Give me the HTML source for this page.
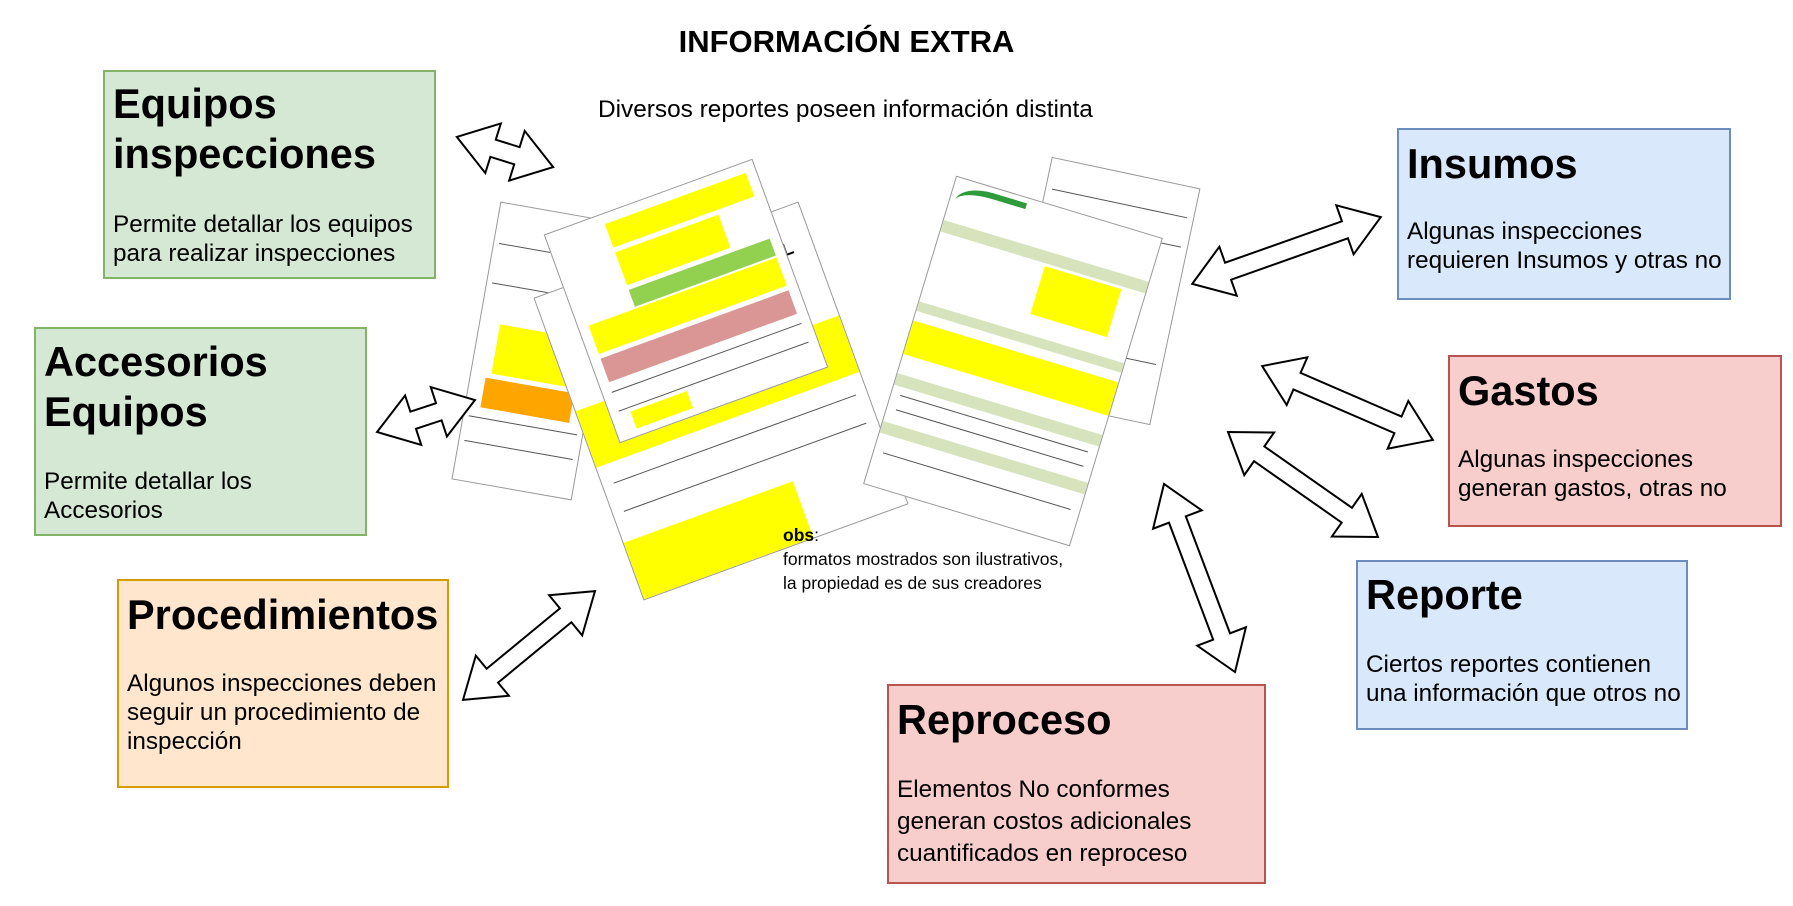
<!DOCTYPE html>
<html><head><meta charset="utf-8">
<style>
html,body{margin:0;padding:0;background:#fff;}
body{width:1793px;height:906px;position:relative;overflow:hidden;font-family:"Liberation Sans",Arial,sans-serif;color:#000;}
.box{position:absolute;box-sizing:border-box;border:2px solid;}
.g{background:#d5e8d4;border-color:#82b366;}
.b{background:#dae8fc;border-color:#6c8ebf;}
.r{background:#f8cecc;border-color:#b85450;}
.o{background:#ffe6cc;border-color:#d79b00;}
.t{position:absolute;left:8px;font-weight:bold;font-size:41.5px;line-height:50px;white-space:nowrap;}
.d{position:absolute;left:8px;font-size:24.3px;line-height:29px;white-space:nowrap;}
.abs{position:absolute;}
.doc{position:absolute;background:#fff;border:1px solid #999;overflow:hidden;}
.y{position:absolute;background:#ffff00;}
.gr{position:absolute;background:#d6e3bc;}
.ln{position:absolute;height:1px;background:#555;left:4%;right:4%;}
</style></head><body>

<div class="abs" style="left:0;width:1693px;top:22px;text-align:center;font-weight:bold;font-size:31px;line-height:40px;">INFORMACIÓN EXTRA</div>
<div class="abs" style="left:598px;top:96px;font-size:24.4px;line-height:28px;">Diversos reportes poseen información distinta</div>

<!-- documents -->
<div class="doc" style="left:475px;top:210px;width:120px;height:280px;transform:rotate(10deg);">
  <div class="ln" style="top:40px"></div><div class="ln" style="top:80px"></div>
  <div class="y" style="left:20px;top:120px;width:80px;height:50px;"></div>
  <div class="abs" style="left:15px;top:175px;width:90px;height:30px;background:#ffa500;"></div>
  <div class="ln" style="top:215px"></div><div class="ln" style="top:240px"></div>
</div>
<div class="doc" style="left:1025px;top:170px;width:150px;height:240px;transform:rotate(12deg);">
  <div class="ln" style="top:30px"></div><div class="ln" style="top:60px"></div><div class="ln" style="top:180px"></div>
</div>
<div class="doc" style="left:580px;top:240px;width:280px;height:320px;transform:rotate(-20deg);">
  <div class="abs" style="left:60px;top:30px;font-weight:bold;font-size:18px;">E INSPECCION VISUAL</div>
  <div class="y" style="left:0;top:120px;width:280px;height:60px;"></div>
  <div class="ln" style="top:200px"></div><div class="ln" style="top:230px"></div>
  <div class="y" style="left:0;top:260px;width:180px;height:60px;"></div>
</div>
<div class="doc" style="left:575px;top:190px;width:220px;height:220px;transform:rotate(-20deg);">
  <div class="y" style="left:60px;top:10px;width:150px;height:25px;"></div>
  <div class="y" style="left:60px;top:40px;width:110px;height:35px;"></div>
  <div class="abs" style="left:60px;top:80px;width:150px;height:18px;background:#92d050;"></div>
  <div class="y" style="left:10px;top:100px;width:200px;height:30px;"></div>
  <div class="abs" style="left:10px;top:135px;width:200px;height:25px;background:#da9694;"></div>
  <div class="ln" style="top:170px"></div><div class="ln" style="top:190px"></div>
  <div class="y" style="left:20px;top:195px;width:60px;height:18px;"></div>
</div>
<div class="doc" style="left:905px;top:200px;width:214px;height:320px;transform:rotate(16.8deg);">
  <div class="abs" style="left:5px;top:5px;width:70px;height:30px;border-top:6px solid #2e9c3a;border-radius:50% 0 0 0;"></div>
  <div class="gr" style="left:0;top:45px;width:214px;height:12px;"></div>
  <div class="y" style="left:110px;top:60px;width:80px;height:50px;"></div>
  <div class="gr" style="left:0;top:130px;width:214px;height:10px;"></div>
  <div class="y" style="left:0;top:150px;width:214px;height:35px;"></div>
  <div class="gr" style="left:0;top:205px;width:214px;height:12px;"></div>
  <div class="ln" style="top:225px"></div><div class="ln" style="top:240px"></div>
  <div class="gr" style="left:0;top:255px;width:214px;height:12px;"></div>
  <div class="ln" style="top:285px"></div>
</div>

<div class="abs" style="left:783px;top:523px;font-size:17.5px;line-height:24px;"><b>obs</b>:<br>formatos mostrados son ilustrativos,<br>la propiedad es de sus creadores</div>

<!-- arrows -->
<svg class="abs" style="left:0;top:0" width="1793" height="906">
<g fill="#fff" stroke="#000" stroke-width="2">
<polygon transform="translate(505,152) rotate(17.4)" points="-50.5,0 -12.5,-26 -12.5,-9 12.5,-9 12.5,-26 50.5,0 12.5,26 12.5,9 -12.5,9 -12.5,26"/>
<polygon transform="translate(426,416) rotate(-18.1)" points="-51.5,0 -13.5,-26 -13.5,-9 13.5,-9 13.5,-26 51.5,0 13.5,26 13.5,9 -13.5,9 -13.5,26"/>
<polygon transform="translate(529,645.5) rotate(-39.5)" points="-85.5,0 -47.5,-26 -47.5,-9 47.5,-9 47.5,-26 85.5,0 47.5,26 47.5,9 -47.5,9 -47.5,26"/>
<polygon transform="translate(1286.5,250.5) rotate(-19.5)" points="-100,0 -62,-26 -62,-9 62,-9 62,-26 100,0 62,26 62,9 -62,9 -62,26"/>
<polygon transform="translate(1347.5,403) rotate(23.4)" points="-93,0 -55,-26 -55,-9 55,-9 55,-26 93,0 55,26 55,9 -55,9 -55,26"/>
<polygon transform="translate(1303,484.5) rotate(35)" points="-91.5,0 -53.5,-26 -53.5,-9 53.5,-9 53.5,-26 91.5,0 53.5,26 53.5,9 -53.5,9 -53.5,26"/>
<polygon transform="translate(1199.5,578) rotate(69.3)" points="-100.5,0 -62.5,-26 -62.5,-9 62.5,-9 62.5,-26 100.5,0 62.5,26 62.5,9 -62.5,9 -62.5,26"/>
</g></svg>

<!-- boxes -->
<div class="box g" style="left:103px;top:70px;width:333px;height:209px;">
  <div class="t" style="top:7px">Equipos<br>inspecciones</div>
  <div class="d" style="top:138px">Permite detallar los equipos<br>para realizar inspecciones</div>
</div>
<div class="box g" style="left:34px;top:327px;width:333px;height:209px;">
  <div class="t" style="top:8px">Accesorios<br>Equipos</div>
  <div class="d" style="top:138px">Permite detallar los<br>Accesorios</div>
</div>
<div class="box o" style="left:117px;top:579px;width:332px;height:209px;">
  <div class="t" style="top:9px">Procedimientos</div>
  <div class="d" style="top:88px">Algunos inspecciones deben<br>seguir un procedimiento de<br>inspección</div>
</div>
<div class="box b" style="left:1397px;top:128px;width:334px;height:172px;">
  <div class="t" style="top:9px">Insumos</div>
  <div class="d" style="top:87px">Algunas inspecciones<br>requieren Insumos y otras no</div>
</div>
<div class="box r" style="left:1448px;top:355px;width:334px;height:172px;">
  <div class="t" style="top:9px">Gastos</div>
  <div class="d" style="top:88px">Algunas inspecciones<br>generan gastos, otras no</div>
</div>
<div class="box b" style="left:1356px;top:560px;width:332px;height:170px;">
  <div class="t" style="top:8px">Reporte</div>
  <div class="d" style="top:88px">Ciertos reportes contienen<br>una información que otros no</div>
</div>
<div class="box r" style="left:887px;top:684px;width:379px;height:200px;">
  <div class="t" style="top:9px">Reproceso</div>
  <div class="d" style="top:88px;line-height:32px">Elementos No conformes<br>generan costos adicionales<br>cuantificados en reproceso</div>
</div>
</body></html>
